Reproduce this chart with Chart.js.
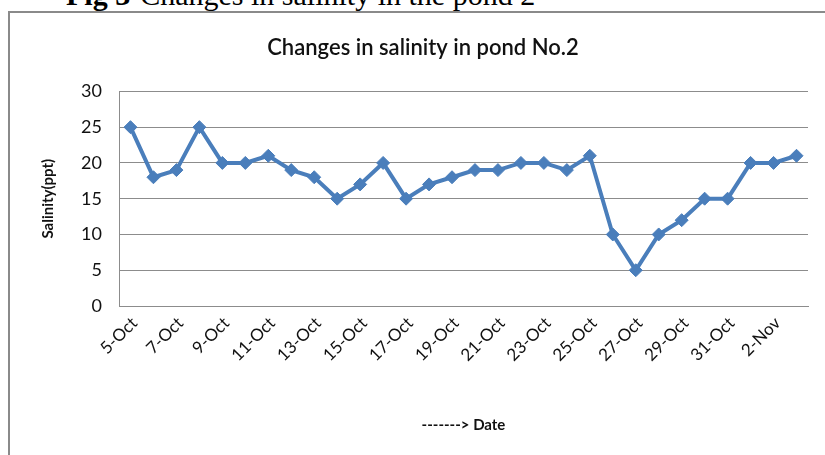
<!DOCTYPE html>
<html>
<head>
<meta charset="utf-8">
<title>Changes in salinity in pond No.2</title>
<script src="https://cdn.jsdelivr.net/npm/chart.js@4"></script>
<style>
  html, body { margin: 0; padding: 0; background: #fff; overflow: hidden; }
  body { width: 825px; height: 455px; position: relative; }
  #caption {
    position: absolute; left: 66px; top: -20px;
    font-family: "Liberation Serif", "Times New Roman", serif;
    font-size: 30px; line-height: 1; white-space: nowrap; color: #000;
  }
  #caption b { margin-right: 10px; }
  #frame {
    position: absolute; left: 8px; top: 11px; width: 840px; height: 470px;
    border-top: 2px solid #8a8a8a; border-left: 2px solid #8a8a8a;
  }
  #wrap { position: absolute; left: 0; top: 0; width: 825px; height: 455px; }
</style>
</head>
<body>
<div id="caption"><b>Fig 3</b>Changes in salinity in the pond 2</div>
<div id="frame"></div>
<div id="wrap"><canvas id="chart" width="825" height="455"></canvas></div>
<script>
// Sampling dates (5 Oct – 3 Nov)
const dates = [
  '5-Oct', '6-Oct', '7-Oct', '8-Oct', '9-Oct', '10-Oct', '11-Oct', '12-Oct',
  '13-Oct', '14-Oct', '15-Oct', '16-Oct', '17-Oct', '18-Oct', '19-Oct', '20-Oct',
  '21-Oct', '22-Oct', '23-Oct', '24-Oct', '25-Oct', '26-Oct', '27-Oct', '28-Oct',
  '29-Oct', '30-Oct', '31-Oct', '1-Nov', '2-Nov', '3-Nov'
];
// Salinity readings, ppt
const salinity = [
  25, 18, 19, 25, 20, 20, 21, 19, 18, 15,
  17, 20, 15, 17, 18, 19, 19, 20, 20, 19,
  21, 10, 5, 10, 12, 15, 15, 20, 20, 21
];
// Y axis range
const yMin = 0, yMax = 30, yStep = 5;

const lineBlue = '#4a7ebb';
const gridGray = '#8c8c8c';
const uiFont = 'Lato, "Open Sans", "DejaVu Sans", sans-serif';

new Chart(document.getElementById('chart'), {
  type: 'line',
  data: {
    labels: dates,
    datasets: [{
      label: 'Salinity(ppt)',
      data: salinity,
      borderColor: lineBlue,
      backgroundColor: lineBlue,
      borderWidth: 4,
      tension: 0,
      pointStyle: 'rectRot',
      pointRadius: 6.5,
      pointBackgroundColor: lineBlue,
      pointBorderColor: lineBlue,
      pointBorderWidth: 1
    }]
  },
  options: {
    responsive: false,
    animation: false,
    layout: { padding: { left: 38, right: 17, top: 14, bottom: 0 } },
    plugins: {
      legend: { display: false },
      tooltip: { enabled: false },
      title: {
        display: true,
        text: 'Changes in salinity in pond No.2',
        color: '#111',
        font: { family: uiFont, size: 22, weight: '600' },
        padding: { top: 21, bottom: 30 }
      }
    },
    scales: {
      x: {
        type: 'category',
        offset: true,
        grid: { display: false, drawTicks: false },
        border: { display: true, color: gridGray, width: 1 },
        ticks: {
          autoSkip: false,
          minRotation: 45,
          maxRotation: 45,
          padding: 7,
          labelOffset: 4,
          color: '#111',
          font: { family: uiFont, size: 17 },
          callback: function (value, index) {
            return index % 2 === 0 ? this.getLabelForValue(value) : '';
          }
        },
        title: {
          display: true,
          text: '-------> Date',
          color: '#111',
          font: { family: uiFont, size: 15, weight: 'bold' },
          padding: { top: 0, bottom: 21 }
        },
        afterFit: (scale) => { scale.height = 149; }
      },
      y: {
        min: yMin,
        max: yMax,
        grid: { color: gridGray, lineWidth: 1, drawTicks: false },
        border: { display: true, color: gridGray, width: 1 },
        ticks: {
          stepSize: yStep,
          padding: 17,
          color: '#111',
          font: { family: uiFont, size: 18 }
        },
        title: {
          display: true,
          text: 'Salinity(ppt)',
          color: '#111',
          font: { family: uiFont, size: 15, weight: 'bold' },
          padding: { top: 1, bottom: 0 }
        },
        afterFit: (scale) => { scale.width = 81; }
      }
    }
  }
});
</script>
</body>
</html>
